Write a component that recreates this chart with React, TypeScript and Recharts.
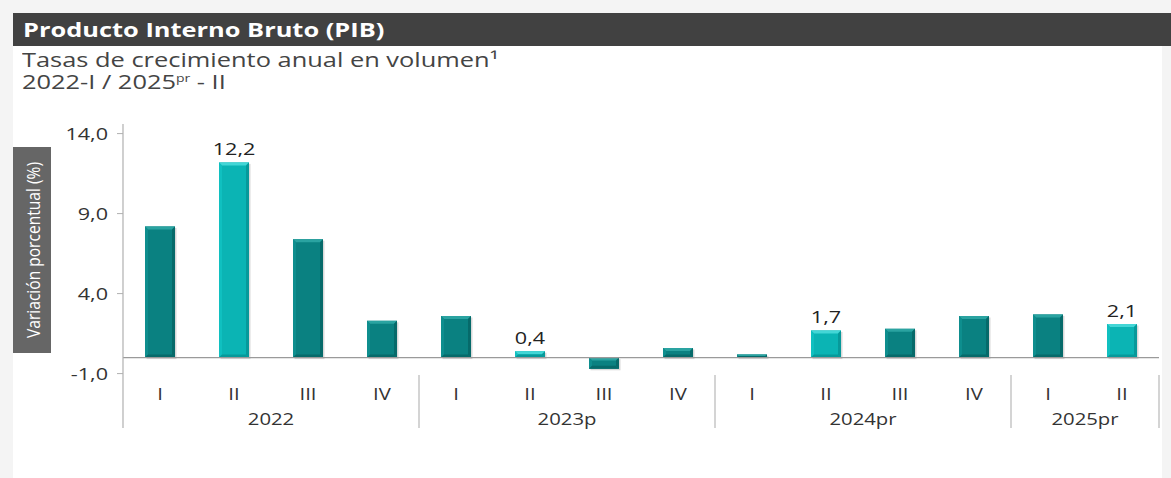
import React from 'react';
import { BarChart, Bar, XAxis, YAxis, ReferenceLine, LabelList } from 'recharts';

const quarters = ['I', 'II', 'III', 'IV', 'I', 'II', 'III', 'IV', 'I', 'II', 'III', 'IV', 'I', 'II'];
const years = ['2022', '2022', '2022', '2022', '2023p', '2023p', '2023p', '2023p', '2024pr', '2024pr', '2024pr', '2024pr', '2025pr', '2025pr'];
const growth = [8.2, 12.2, 7.4, 2.3, 2.6, 0.4, -0.7, 0.6, 0.2, 1.7, 1.8, 2.6, 2.7, 2.1];
const highlighted = [false, true, false, false, false, true, false, false, false, true, false, false, false, true];
const yTicks = [-1, 4, 9, 14];

const data = quarters.map((q, i) => ({
  key: `${years[i]}-${q}`,
  quarter: q,
  year: years[i],
  value: growth[i],
  hl: highlighted[i],
}));

const FONT = '"Open Sans", "Noto Sans", sans-serif';
const SX = 1.27;
const fmt = (v: number) => v.toFixed(1).replace('.', ',');

const SText = (p: any) => {
  const { x, y, anchor = 'middle', size = 16, fill = '#333', children } = p;
  return (
    <text
      x={0}
      y={0}
      transform={`translate(${x},${y}) scale(${SX},1)`}
      textAnchor={anchor}
      dominantBaseline="central"
      fontSize={size}
      fill={fill}
      fontFamily={FONT}
    >
      {children}
    </text>
  );
};

const QuarterTick = (props: any) => {
  const { x, y, payload } = props;
  const i = payload.index ?? props.index;
  const d = data[i];
  if (!d) return null;
  const band = payload.offset ? payload.offset * 2 : 74;
  const isStart = i === 0 || data[i - 1].year !== d.year;
  const isEnd = i === data.length - 1;
  let groupLen = 0;
  if (isStart) {
    for (let j = i; j < data.length && data[j].year === d.year; j++) groupLen++;
  }
  const left = x - band / 2;
  return (
    <g>
      <SText x={x} y={y - 35}>{d.quarter}</SText>
      {isStart && i > 0 && <line x1={left} x2={left} y1={y - 53} y2={y} stroke="#b8b8b8" strokeWidth={1.2} />}
      {isEnd && <line x1={x + band / 2} x2={x + band / 2} y1={y - 53} y2={y} stroke="#b8b8b8" strokeWidth={1.2} />}
      {isStart && <SText x={left + (groupLen * band) / 2} y={y - 10}>{d.year}</SText>}
    </g>
  );
};

const YTick = (props: any) => {
  const { x, y, payload } = props;
  return <SText x={x} y={y} anchor="end" size={17}>{fmt(payload.value)}</SText>;
};

const BevelBar = (props: any) => {
  const { x, y, width, height, payload } = props;
  const top = height < 0 ? y + height : y;
  const h = Math.abs(height);
  const hl = payload && payload.hl;
  const main = hl ? '#0bb4b4' : '#0a8181';
  const light = hl ? '#43d6d6' : '#2aa3a1';
  const side = hl ? '#10c0c0' : '#0e8e8e';
  const dark = hl ? '#07999a' : '#066a6a';
  const b = Math.min(3, h / 2);
  const x2 = x + width;
  const y2 = top + h;
  return (
    <g>
      <rect x={x + 1.5} y={top + 1.5} width={width} height={h} fill="rgba(0,0,0,0.15)" />
      <rect x={x} y={top} width={width} height={h} fill={main} />
      <polygon points={`${x},${top} ${x2},${top} ${x2 - b},${top + b} ${x + b},${top + b}`} fill={light} />
      <polygon points={`${x},${top} ${x + b},${top + b} ${x + b},${y2 - b} ${x},${y2}`} fill={side} />
      <polygon points={`${x2},${top} ${x2},${y2} ${x2 - b},${y2 - b} ${x2 - b},${top + b}`} fill={dark} />
      <polygon points={`${x},${y2} ${x2},${y2} ${x2 - b},${y2 - b} ${x + b},${y2 - b}`} fill={dark} />
    </g>
  );
};

const ValueLabel = (props: any) => {
  const { x, y, width, height, value, index } = props;
  if (!data[index] || !data[index].hl) return null;
  const top = height < 0 ? y + height : y;
  return <SText x={x + width / 2} y={top - 14} size={17} fill="#222">{fmt(value)}</SText>;
};

export default function App() {
  return (
    <div style={{ position: 'absolute', left: 0, top: 0, width: 1171, height: 478, background: '#f4f4f4', overflow: 'hidden', fontFamily: FONT }}>
      <div style={{ position: 'absolute', left: 13, top: 13, width: 1149, height: 465, background: '#ffffff' }} />
      <div style={{ position: 'absolute', left: 13, top: 13, width: 1158, height: 33, background: '#414141' }} />
      <div
        style={{
          position: 'absolute', left: 23, top: 13, height: 33, lineHeight: '33px', whiteSpace: 'nowrap',
          color: '#ffffff', fontWeight: 700, fontSize: 20, transform: `scaleX(${SX})`, transformOrigin: 'left center',
        }}
      >
        Producto Interno Bruto (PIB)
      </div>
      <div
        style={{
          position: 'absolute', left: 22, top: 49, color: '#444', fontSize: 20, lineHeight: '22px', whiteSpace: 'nowrap',
          transform: `scaleX(${SX})`, transformOrigin: 'left top',
        }}
      >
        Tasas de crecimiento anual en volumen¹
      </div>
      <div
        style={{
          position: 'absolute', left: 22, top: 71, color: '#444', fontSize: 20, lineHeight: '22px', whiteSpace: 'nowrap',
          transform: `scaleX(${SX})`, transformOrigin: 'left top',
        }}
      >
        2022-I / 2025<span style={{ fontSize: 11, position: 'relative', top: -7, lineHeight: '11px' }}>pr</span> - II
      </div>
      <div style={{ position: 'absolute', left: 0, top: 0 }}>
        <BarChart width={1171} height={478} data={data} margin={{ top: 124, right: 12, bottom: 10, left: 0 }} barSize={30}>
          <XAxis dataKey="key" axisLine={false} tickLine={false} tickSize={0} tickMargin={0} height={40} interval={0} tick={<QuarterTick />} />
          <YAxis
            type="number"
            domain={[-4.4, 14.6]}
            ticks={yTicks}
            width={123}
            axisLine={{ stroke: '#b0b0b0', strokeWidth: 1.2 }}
            tickLine={{ stroke: '#b0b0b0' }}
            tickSize={6}
            tickMargin={9}
            tick={<YTick />}
          />
          <ReferenceLine y={0} stroke="#9a9a9a" strokeWidth={1.2} />
          <Bar dataKey="value" isAnimationActive={false} shape={<BevelBar />}>
            <LabelList dataKey="value" content={<ValueLabel />} />
          </Bar>
        </BarChart>
      </div>
      <svg style={{ position: 'absolute', left: 13, top: 147 }} width={38} height={206}>
        <rect x={0} y={0} width={38} height={206} fill="#666666" />
        <text
          x={0}
          y={0}
          transform={`translate(20,103) rotate(-90) scale(1,${SX})`}
          textAnchor="middle"
          dominantBaseline="central"
          fontSize={14.5}
          fill="#ffffff"
          fontFamily={FONT}
          textLength={176}
          lengthAdjust="spacingAndGlyphs"
        >
          Variación porcentual (%)
        </text>
      </svg>
    </div>
  );
}
